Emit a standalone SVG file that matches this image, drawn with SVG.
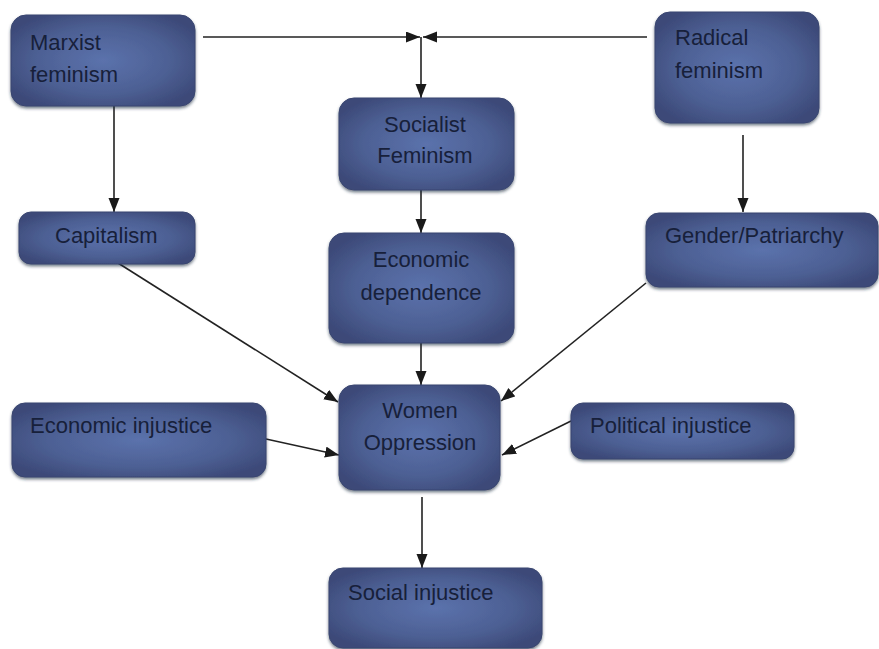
<svg xmlns="http://www.w3.org/2000/svg" width="879" height="649" viewBox="0 0 879 649">
<style>
.box{fill:url(#g);stroke:#3a4670;stroke-width:1;filter:url(#sh)}
.t{font-family:"Liberation Sans",Arial,sans-serif;font-size:22px;fill:#17203a}
.c{text-anchor:middle}
.e{stroke:#222;stroke-width:1.6;fill:none;marker-end:url(#a)}
</style>
<defs>
<radialGradient id="g" cx="50%" cy="50%" r="60%">
<stop offset="0" stop-color="#5b72ac"/>
<stop offset="0.6" stop-color="#4d6094"/>
<stop offset="1" stop-color="#3c4978"/>
</radialGradient>
<filter id="sh" x="-5%" y="-5%" width="110%" height="120%">
<feDropShadow dx="0" dy="2" stdDeviation="1.5" flood-color="#222a40" flood-opacity="0.6"/>
</filter>
<marker id="a" markerUnits="userSpaceOnUse" markerWidth="16" markerHeight="12" refX="14" refY="5.5" orient="auto">
<path d="M0,0 L14,5.5 L0,11 z" fill="#1a1a1a"/>
</marker>
</defs>
<g id="connectors">
<line class="e" x1="203" y1="37" x2="420" y2="37"/>
<line class="e" x1="647" y1="37" x2="423" y2="37"/>
<line class="e" x1="421" y1="37" x2="421" y2="98"/>
<line class="e" x1="114" y1="106" x2="114" y2="212"/>
<line class="e" x1="743" y1="135" x2="743" y2="212"/>
<line class="e" x1="421" y1="190" x2="421" y2="233"/>
<line class="e" x1="421" y1="343" x2="421" y2="385"/>
<line class="e" x1="118" y1="263" x2="338" y2="402"/>
<line class="e" x1="646" y1="283" x2="501" y2="401"/>
<line class="e" x1="266" y1="439" x2="339" y2="455"/>
<line class="e" x1="571" y1="421" x2="502" y2="455"/>
<line class="e" x1="422" y1="497" x2="422" y2="568"/>
</g>
<g id="marxist">
<rect class="box" x="11" y="15" width="184" height="91" rx="15"/>
<text class="t" x="30" y="50">Marxist</text>
<text class="t" x="30" y="82">feminism</text>
</g>
<g id="socialist">
<rect class="box" x="339" y="98" width="175" height="92" rx="15"/>
<text class="t c" x="425" y="132">Socialist</text>
<text class="t c" x="425" y="163">Feminism</text>
</g>
<g id="radical">
<rect class="box" x="655" y="12" width="164" height="111" rx="15"/>
<text class="t" x="675" y="45">Radical</text>
<text class="t" x="675" y="78">feminism</text>
</g>
<g id="capitalism">
<rect class="box" x="19" y="212" width="176" height="52" rx="12"/>
<text class="t" x="55" y="243">Capitalism</text>
</g>
<g id="economic-dependence">
<rect class="box" x="329" y="233" width="185" height="110" rx="15"/>
<text class="t c" x="421" y="267">Economic</text>
<text class="t c" x="421" y="300">dependence</text>
</g>
<g id="gender">
<rect class="box" x="646" y="213" width="232" height="74" rx="13"/>
<text class="t" x="665" y="243">Gender/Patriarchy</text>
</g>
<g id="women">
<rect class="box" x="339" y="385" width="161" height="105" rx="15"/>
<text class="t c" x="420" y="418">Women</text>
<text class="t c" x="420" y="450">Oppression</text>
</g>
<g id="economic-injustice">
<rect class="box" x="12" y="403" width="254" height="74" rx="13"/>
<text class="t" x="30" y="433">Economic injustice</text>
</g>
<g id="political-injustice">
<rect class="box" x="571" y="403" width="223" height="56" rx="12"/>
<text class="t" x="590" y="433">Political injustice</text>
</g>
<g id="social-injustice">
<rect class="box" x="329" y="568" width="213" height="80" rx="14"/>
<text class="t" x="348" y="600">Social injustice</text>
</g>
</svg>
